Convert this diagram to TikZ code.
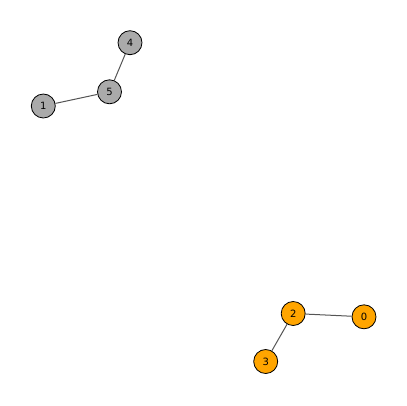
\documentclass[tikz,border=0pt]{standalone}
\usepackage{fontspec}
\setmainfont{DejaVu Sans}
\definecolor{grayfill}{HTML}{AAAAAA}
\definecolor{orangefill}{HTML}{FFA500}
\definecolor{edgecol}{HTML}{555555}
\begin{document}
\begin{tikzpicture}[x=1pt,y=-1pt,
  vert/.style={circle,draw=black,line width=0.8pt,minimum size=24pt,inner sep=0pt,font=\fontsize{10}{12}\selectfont},
  grayv/.style={vert,fill=grayfill},
  orangev/.style={vert,fill=orangefill},
  edge/.style={draw=edgecol,line width=1pt}]
\useasboundingbox (0,0) rectangle (407,405);
\node[grayv] (n4) at (130,42.7) {4};
\node[grayv] (n5) at (109.5,91.8) {5};
\node[grayv] (n1) at (43.3,106) {1};
\node[orangev] (n2) at (293.2,313.5) {2};
\node[orangev] (n0) at (364,316.8) {0};
\node[orangev] (n3) at (265.7,361.5) {3};
\draw[edge] (n4) -- (n5);
\draw[edge] (n5) -- (n1);
\draw[edge] (n2) -- (n0);
\draw[edge] (n2) -- (n3);
\end{tikzpicture}
\end{document}
